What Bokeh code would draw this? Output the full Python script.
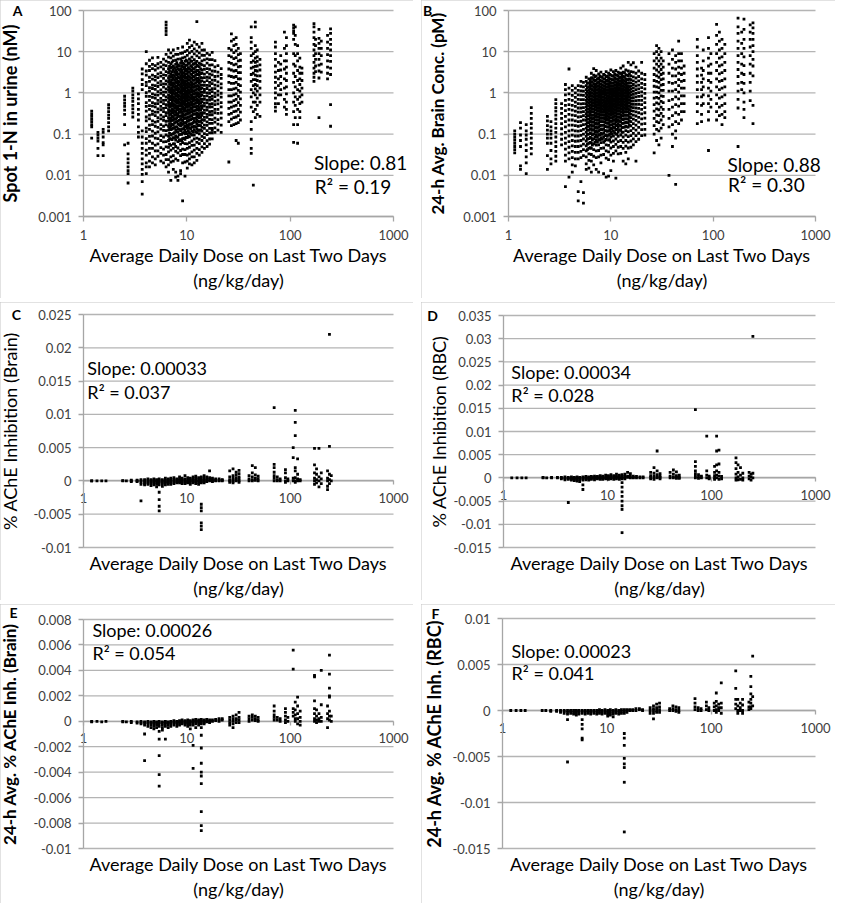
from math import log10
from bokeh.plotting import figure
from bokeh.models import (LogAxis, LinearAxis, FixedTicker, NumeralTickFormatter, Label, Range1d)
from bokeh.layouts import row, column
from bokeh.embed import file_html
from bokeh.resources import INLINE

FONT = "Lato"
X_TITLE = "Average Daily Dose on Last Two Days\n(ng/kg/day)"
X_TICKS = [1, 10, 100, 1000]
LOG_YTICKS = [0.001, 0.01, 0.1, 1, 10, 100]
C_YTICKS = [-0.01, -0.005, 0, 0.005, 0.01, 0.015, 0.02, 0.025]
D_YTICKS = [-0.015, -0.01, -0.005, 0, 0.005, 0.01, 0.015, 0.02, 0.025, 0.03, 0.035]
E_YTICKS = [-0.01, -0.008, -0.006, -0.004, -0.002, 0, 0.002, 0.004, 0.006, 0.008]
F_YTICKS = [-0.015, -0.01, -0.005, 0, 0.005, 0.01]

# ---------------- Panel A: Spot 1-N in urine (nM) ----------------
A_DOSE = [1.2, 1.38, 1.55, 1.75, 2.5, 2.7, 3.0, 3.4, 3.7, 4.05, 4.35, 4.65, 4.95, 5.25, 5.6, 5.95,
          6.3, 6.65, 7.0, 7.4, 7.8, 8.2, 8.7, 9.1, 9.6, 10.1, 10.6, 11.2, 11.8, 12.5, 13.2, 14.0,
          14.8, 15.7, 16.6, 17.6, 18.7, 20.0, 21.5, 25.5, 27, 28.5, 30, 31.5, 33, 42, 44, 46, 48, 51,
          72, 77, 81, 88, 92, 108, 112, 118, 124, 130, 170, 176, 190, 200, 230, 246]
A_VALS = [
    [0.36, 0.31, 0.27, 0.23, 0.2, 0.17, 0.15, 0.08],
    [0.11, 0.095, 0.08, 0.068, 0.045, 0.03],
    [0.13, 0.11, 0.085, 0.062, 0.055, 0.03],
    [0.52, 0.43, 0.35, 0.29, 0.24, 0.19, 0.15, 0.12],
    [0.83, 0.68, 0.56, 0.47, 0.38, 0.3, 0.17, 0.055],
    [0.06, 0.033, 0.025, 0.02, 0.016, 0.013, 0.011, 0.0065],
    [1.3, 1.1, 0.9, 0.75, 0.62, 0.5, 0.41, 0.33, 0.26],
    [0.95, 0.72, 0.55, 0.4, 0.3, 0.22, 0.15, 0.11, 0.085],
    [3.8, 2.9, 2.1, 1.6, 1.2, 0.12, 0.085, 0.06, 0.045, 0.034, 0.025, 0.019, 0.014, 0.0105, 0.007, 0.0035],
    [10, 5.1, 3.4, 2.7, 1.8, 1.5, 1.02, 0.83, 0.58, 0.47, 0.36, 0.26, 0.21, 0.14, 0.115, 0.078, 0.06, 0.041, 0.031, 0.02, 0.016, 0.011],
    [6.2, 4.4, 3.5, 2.4, 1.9, 1.35, 1.1, 0.82, 0.66, 0.49, 0.4, 0.29, 0.235, 0.165, 0.13, 0.088, 0.067, 0.045, 0.034, 0.022, 0.016],
    [7.1, 4.9, 3.9, 2.7, 2.15, 1.55, 1.28, 0.95, 0.78, 0.58, 0.48, 0.36, 0.3, 0.21, 0.17, 0.118, 0.09, 0.06, 0.045, 0.028, 0.02],
    [4.6, 3.6, 2.5, 2.05, 1.5, 1.22, 0.9, 0.75, 0.55, 0.46, 0.34, 0.28, 0.195, 0.155, 0.105, 0.08, 0.054, 0.039, 0.025, 0.018],
    [7.3, 5.1, 4.0, 2.9, 2.35, 1.75, 1.43, 1.07, 0.88, 0.66, 0.55, 0.41, 0.34, 0.25, 0.205, 0.145, 0.113, 0.078, 0.058, 0.039, 0.029],
    [5.5, 4.3, 3.1, 2.55, 1.9, 1.58, 1.18, 0.98, 0.74, 0.61, 0.47, 0.39, 0.29, 0.235, 0.17, 0.133, 0.092, 0.07, 0.047, 0.034, 0.022],
    [6.6, 4.8, 3.8, 2.75, 2.25, 1.66, 1.38, 1.04, 0.87, 0.66, 0.55, 0.42, 0.35, 0.26, 0.215, 0.155, 0.123, 0.085, 0.065, 0.043, 0.031, 0.02],
    [52, 44, 37, 31, 26, 8.6, 5.9, 4.6, 3.3, 2.65, 1.95, 1.63, 1.25, 1.04, 0.8, 0.67, 0.52, 0.44, 0.33, 0.28, 0.205, 0.168, 0.122, 0.095, 0.066, 0.049, 0.032, 0.024, 0.016],
    [11, 7.4, 5.5, 3.9, 3.1, 2.3, 1.88, 1.42, 1.18, 0.9, 0.76, 0.59, 0.5, 0.39, 0.33, 0.25, 0.21, 0.155, 0.125, 0.089, 0.07, 0.048, 0.037, 0.024, 0.018, 0.012],
    [9.4, 7.1, 5.1, 4.0, 2.9, 2.4, 1.8, 1.53, 1.18, 1.02, 0.8, 0.69, 0.54, 0.47, 0.37, 0.315, 0.245, 0.205, 0.155, 0.128, 0.094, 0.076, 0.053, 0.041, 0.028, 0.021, 0.0075],
    [11, 7.8, 6.1, 4.5, 3.65, 2.75, 2.25, 1.74, 1.48, 1.17, 1.0, 0.8, 0.69, 0.55, 0.48, 0.38, 0.325, 0.255, 0.215, 0.165, 0.138, 0.102, 0.082, 0.058, 0.045, 0.03, 0.022, 0.014],
    [8.6, 6.2, 4.9, 3.6, 2.95, 2.25, 1.88, 1.46, 1.25, 0.99, 0.86, 0.7, 0.61, 0.49, 0.43, 0.34, 0.295, 0.235, 0.2, 0.15, 0.123, 0.09, 0.072, 0.05, 0.038, 0.025, 0.012, 0.009],
    [12, 8.6, 6.6, 4.8, 3.9, 2.9, 2.45, 1.9, 1.63, 1.29, 1.12, 0.9, 0.78, 0.64, 0.56, 0.45, 0.395, 0.315, 0.27, 0.21, 0.178, 0.136, 0.112, 0.083, 0.066, 0.046, 0.035, 0.023, 0.0095, 0.0075],
    [9.1, 6.7, 5.3, 3.9, 3.25, 2.5, 2.1, 1.64, 1.4, 1.12, 0.97, 0.79, 0.69, 0.56, 0.49, 0.39, 0.34, 0.275, 0.235, 0.185, 0.158, 0.122, 0.1, 0.073, 0.057, 0.04, 0.03, 0.013, 0.011],
    [13, 9.3, 7.1, 5.2, 4.2, 3.1, 2.6, 2.0, 1.7, 1.35, 1.16, 0.93, 0.81, 0.65, 0.57, 0.46, 0.4, 0.315, 0.265, 0.205, 0.173, 0.132, 0.107, 0.078, 0.062, 0.043, 0.032, 0.02, 0.0024],
    [10, 7.4, 5.8, 4.3, 3.5, 2.7, 2.25, 1.76, 1.5, 1.2, 1.04, 0.84, 0.73, 0.59, 0.51, 0.41, 0.355, 0.285, 0.245, 0.19, 0.16, 0.123, 0.102, 0.075, 0.059, 0.042, 0.032, 0.021, 0.0095],
    [16, 10.8, 8.1, 5.9, 4.7, 3.5, 2.9, 2.25, 1.9, 1.52, 1.3, 1.05, 0.91, 0.74, 0.64, 0.52, 0.45, 0.36, 0.315, 0.25, 0.213, 0.166, 0.137, 0.103, 0.082, 0.058, 0.045, 0.031, 0.022, 0.015],
    [19, 12.8, 9.4, 6.7, 5.3, 3.9, 3.2, 2.45, 2.06, 1.62, 1.39, 1.12, 0.97, 0.78, 0.68, 0.55, 0.48, 0.38, 0.33, 0.26, 0.218, 0.172, 0.142, 0.108, 0.086, 0.062, 0.048, 0.033, 0.025, 0.019],
    [14, 10.2, 7.4, 5.8, 4.3, 3.5, 2.7, 2.25, 1.76, 1.5, 1.2, 1.04, 0.83, 0.72, 0.58, 0.5, 0.4, 0.345, 0.275, 0.235, 0.18, 0.152, 0.118, 0.095, 0.068, 0.053, 0.037, 0.028, 0.018],
    [17, 11.7, 8.9, 6.4, 5.1, 3.8, 3.15, 2.45, 2.05, 1.62, 1.38, 1.1, 0.95, 0.77, 0.66, 0.53, 0.46, 0.36, 0.31, 0.24, 0.205, 0.157, 0.128, 0.095, 0.076, 0.054, 0.041, 0.028, 0.02],
    [54, 15, 10.3, 7.9, 5.8, 4.7, 3.5, 2.9, 2.25, 1.9, 1.5, 1.27, 1.01, 0.87, 0.7, 0.6, 0.48, 0.41, 0.32, 0.275, 0.215, 0.178, 0.135, 0.109, 0.08, 0.063, 0.045, 0.034, 0.023],
    [13, 9.4, 7.2, 5.3, 4.3, 3.2, 2.65, 2.05, 1.73, 1.37, 1.17, 0.93, 0.8, 0.64, 0.55, 0.44, 0.375, 0.295, 0.25, 0.196, 0.163, 0.124, 0.102, 0.075, 0.059, 0.042, 0.031],
    [16, 10.9, 8.2, 6.0, 4.8, 3.6, 3.0, 2.32, 1.95, 1.54, 1.31, 1.04, 0.89, 0.71, 0.61, 0.49, 0.42, 0.33, 0.285, 0.225, 0.188, 0.145, 0.119, 0.088, 0.07, 0.049, 0.036],
    [11, 8.1, 6.3, 4.6, 3.75, 2.85, 2.35, 1.82, 1.52, 1.21, 1.03, 0.82, 0.7, 0.56, 0.48, 0.38, 0.325, 0.255, 0.215, 0.166, 0.138, 0.103, 0.082, 0.059, 0.045],
    [9.1, 6.7, 5.3, 3.9, 3.15, 2.4, 1.98, 1.53, 1.28, 1.0, 0.85, 0.67, 0.57, 0.45, 0.385, 0.3, 0.255, 0.197, 0.162, 0.122, 0.097, 0.069, 0.05],
    [8.4, 6.4, 4.7, 3.75, 2.85, 2.33, 1.8, 1.49, 1.17, 0.98, 0.78, 0.67, 0.53, 0.45, 0.35, 0.295, 0.228, 0.183, 0.137, 0.107, 0.076, 0.057],
    [9.6, 6.4, 4.8, 3.4, 2.75, 2.05, 1.68, 1.27, 1.07, 0.83, 0.7, 0.55, 0.46, 0.355, 0.295, 0.225, 0.183, 0.137, 0.107, 0.077, 0.124],
    [6.1, 4.3, 3.35, 2.5, 2.03, 1.55, 1.27, 0.98, 0.81, 0.63, 0.52, 0.4, 0.33, 0.245, 0.195, 0.142, 0.11],
    [4.6, 3.2, 2.55, 1.85, 1.48, 1.1, 0.89, 0.67, 0.54, 0.4, 0.32, 0.225, 0.175, 0.125],
    [3.9, 2.8, 2.25, 1.65, 1.33, 0.98, 0.79, 0.58, 0.46, 0.325, 0.245, 0.165, 0.11],
    [12, 8, 5.5, 3.8, 2.6, 1.8, 1.2, 0.85, 0.6, 0.42, 0.3, 0.2, 0.021],
    [27, 18, 11, 7.5, 5.2, 3.6, 2.5, 1.7, 1.2, 0.85, 0.6, 0.45, 0.32, 0.23, 0.16],
    [20, 14, 9.5, 6.8, 4.8, 3.4, 2.4, 1.7, 1.25, 0.9, 0.65, 0.48, 0.35, 0.25, 0.17],
    [22, 15, 10.5, 7.2, 5, 3.5, 2.5, 1.8, 1.3, 0.95, 0.7, 0.5, 0.36, 0.26, 0.18, 0.07],
    [12, 8.5, 6, 4.3, 3.1, 2.2, 1.6, 1.15, 0.82, 0.58, 0.4, 0.28, 0.19, 0.06],
    [9, 6.2, 4.4, 3.1, 2.2, 1.5, 1.05, 0.72, 0.5, 0.34, 0.22],
    [40, 22, 17, 12, 8, 5.5, 4, 2.8, 1.9, 1.2, 0.8, 0.45, 0.2, 0.13, 0.075, 0.045, 0.034],
    [9, 6, 4.2, 3, 2.1, 1.5, 1.0, 0.6, 0.35, 0.0058],
    [52, 40, 14, 10, 7, 5.5, 4.4, 3.5, 2.7, 2.1, 1.6, 1.25, 0.9, 0.6, 0.4, 0.25],
    [11, 7.5, 5.8, 4.5, 3.4, 2.6, 2, 1.5, 1.1, 0.75, 0.5, 0.3],
    [6.5, 4.8, 3.6, 2.6, 1.9, 1.3, 0.9, 0.6, 0.27],
    [17, 13, 9, 6.5, 4.5, 3.2, 2.4, 1.8, 1.3, 1.0, 0.75, 0.55, 0.45, 0.36],
    [5.5, 3.5, 2.2, 1.5, 0.9, 0.55],
    [8, 5, 3.6, 2.5, 1.7, 1.2, 0.9],
    [30, 12, 6, 3.8, 2.2, 1.3, 0.7, 0.45],
    [22, 14, 9, 6, 4.2, 3, 2, 1.4, 0.95, 0.6, 0.4, 0.3],
    [44, 38, 32, 28, 20, 9, 5, 3, 1.8, 1, 0.6, 0.35, 0.17, 0.063],
    [40, 25, 15, 8, 4.5, 2.5, 1.4, 0.8, 0.5, 0.25],
    [14, 9, 6, 3.5, 2, 1.2, 0.7, 0.4, 0.17, 0.06],
    [7, 4.2, 3, 2.2, 1.6, 1.1, 0.8, 0.55, 0.35, 0.25],
    [4, 3, 2, 1.3, 0.9, 0.6],
    [48, 40, 30, 22, 15, 11, 8, 5.5, 4, 3, 2.4, 1.9],
    [20, 14, 9, 6.5, 4.5, 3.3],
    [35, 21, 16, 12, 9, 6.5, 4.7, 3.4, 2.3, 0.25],
    [18, 12, 8, 5, 3.2],
    [25, 17, 12, 8.5, 6, 4.2, 3.0, 2.2],
    [36, 28, 20, 15, 11, 8, 5.8, 4, 2.8, 0.52, 0.155],
]
# dense core of panel A (between the strips above)
A_CORE_DOSE = [6.8, 7.2, 7.6, 8.0, 8.45, 8.9, 9.35, 9.85, 10.35, 10.9, 11.5, 12.15, 12.85, 13.6]
A_CORE_VALS = [
    [4.4, 3.4, 2.6, 2.05, 1.65, 1.3, 1.08, 0.85, 0.69, 0.55, 0.45, 0.36, 0.29, 0.23, 0.18, 0.138, 0.104, 0.078, 0.057],
    [5.6, 4.2, 3.3, 2.6, 2.05, 1.65, 1.33, 1.1, 0.88, 0.73, 0.6, 0.5, 0.41, 0.34, 0.27, 0.22, 0.172, 0.133, 0.1, 0.074],
    [4.1, 3.2, 2.55, 2.05, 1.68, 1.37, 1.14, 0.93, 0.77, 0.64, 0.52, 0.43, 0.355, 0.29, 0.235, 0.185, 0.143, 0.108, 0.08, 0.058],
    [5.4, 4.2, 3.3, 2.7, 2.15, 1.77, 1.45, 1.2, 0.99, 0.82, 0.68, 0.57, 0.47, 0.385, 0.31, 0.25, 0.195, 0.15, 0.114, 0.085],
    [4.6, 3.6, 2.85, 2.3, 1.85, 1.52, 1.25, 1.04, 0.86, 0.71, 0.59, 0.49, 0.41, 0.335, 0.27, 0.215, 0.168, 0.13, 0.097, 0.07],
    [5.9, 4.5, 3.5, 2.8, 2.25, 1.83, 1.5, 1.24, 1.03, 0.86, 0.72, 0.6, 0.5, 0.415, 0.34, 0.275, 0.22, 0.172, 0.132, 0.098, 0.07],
    [4.9, 3.8, 3.0, 2.4, 1.95, 1.6, 1.32, 1.1, 0.92, 0.77, 0.64, 0.53, 0.44, 0.36, 0.295, 0.235, 0.185, 0.143, 0.108, 0.08],
    [6.2, 4.7, 3.7, 2.95, 2.4, 1.96, 1.62, 1.35, 1.12, 0.93, 0.78, 0.65, 0.54, 0.45, 0.37, 0.3, 0.24, 0.19, 0.148, 0.112, 0.083],
    [5.2, 4.1, 3.25, 2.6, 2.1, 1.72, 1.42, 1.18, 0.98, 0.82, 0.68, 0.57, 0.47, 0.39, 0.32, 0.26, 0.205, 0.16, 0.122, 0.09],
    [6.0, 4.6, 3.6, 2.85, 2.3, 1.88, 1.55, 1.28, 1.06, 0.88, 0.74, 0.61, 0.51, 0.42, 0.345, 0.28, 0.225, 0.176, 0.135, 0.1],
    [4.9, 3.9, 3.1, 2.5, 2.02, 1.66, 1.37, 1.13, 0.94, 0.78, 0.65, 0.54, 0.45, 0.37, 0.3, 0.24, 0.19, 0.148, 0.112],
    [5.4, 4.2, 3.3, 2.65, 2.15, 1.75, 1.44, 1.19, 0.98, 0.81, 0.67, 0.56, 0.46, 0.375, 0.305, 0.245, 0.195, 0.152, 0.115],
    [4.5, 3.5, 2.8, 2.25, 1.82, 1.49, 1.22, 1.0, 0.83, 0.69, 0.57, 0.47, 0.385, 0.315, 0.255, 0.205, 0.16, 0.124],
    [5.0, 3.8, 2.95, 2.35, 1.9, 1.55, 1.27, 1.04, 0.86, 0.71, 0.58, 0.48, 0.39, 0.32, 0.26, 0.205, 0.16, 0.125],
]

# ---------------- Panel B: 24-h Avg. Brain Conc. (pM) ----------------
B_DOSE = [1.15, 1.31, 1.49, 1.67, 2.4, 2.6, 2.9, 3.3, 3.6, 3.9, 4.2, 4.5, 4.8, 5.1, 5.4, 5.75,
          6.1, 6.45, 6.8, 7.2, 7.6, 8.0, 8.5, 9.0, 9.5, 10.0, 10.6, 11.2, 11.8, 12.5, 13.2, 14.0,
          14.8, 15.7, 16.6, 17.6, 18.7, 20.0, 21.5, 26.5, 28, 29.5, 31, 32.5, 37, 40, 43, 46, 49, 52,
          70, 77, 80, 90, 95, 108, 115, 122, 130, 175, 190, 200, 230, 245]
B_VALS = [
    [0.12, 0.1, 0.085, 0.072, 0.06, 0.05, 0.042, 0.035],
    [0.19, 0.14, 0.095, 0.07, 0.05, 0.017, 0.014],
    [0.17, 0.12, 0.095, 0.075, 0.055, 0.04, 0.028, 0.02, 0.011],
    [0.44, 0.32, 0.24, 0.18, 0.14, 0.105, 0.08, 0.06, 0.045, 0.033],
    [0.27, 0.21, 0.16, 0.125, 0.1, 0.08, 0.06, 0.03, 0.014],
    [0.2, 0.15, 0.12, 0.1, 0.08, 0.06, 0.04, 0.025, 0.019],
    [0.69, 0.55, 0.44, 0.36, 0.29, 0.23, 0.18, 0.14, 0.11, 0.085, 0.065, 0.05, 0.038, 0.029, 0.022],
    [0.55, 0.42, 0.32, 0.24, 0.18, 0.135, 0.1, 0.075, 0.055],
    [1.6, 1.2, 0.9, 0.66, 0.5, 0.37, 0.27, 0.2, 0.15, 0.11, 0.08, 0.06, 0.043, 0.031, 0.022, 0.0053],
    [3.8, 1.3, 0.95, 0.7, 0.52, 0.4, 0.3, 0.22, 0.165, 0.12, 0.09, 0.066, 0.048, 0.035, 0.025, 0.009],
    [1.5, 1.15, 0.87, 0.66, 0.5, 0.38, 0.29, 0.22, 0.165, 0.125, 0.094, 0.07, 0.052, 0.038, 0.027, 0.018, 0.012],
    [1.3, 1.0, 0.78, 0.6, 0.47, 0.36, 0.28, 0.21, 0.16, 0.12, 0.09, 0.067, 0.05, 0.036, 0.025, 0.017],
    [1.5, 1.15, 0.9, 0.7, 0.55, 0.43, 0.34, 0.26, 0.2, 0.155, 0.118, 0.09, 0.068, 0.05, 0.036, 0.025, 0.0024, 0.004],
    [1.9, 1.45, 1.12, 0.88, 0.69, 0.54, 0.43, 0.34, 0.265, 0.205, 0.16, 0.122, 0.093, 0.07, 0.052, 0.038, 0.027, 0.007],
    [1.8, 1.4, 1.1, 0.87, 0.69, 0.55, 0.44, 0.35, 0.28, 0.22, 0.17, 0.13, 0.1, 0.076, 0.057, 0.042, 0.03, 0.0021, 0.0038],
    [2.4, 1.9, 1.5, 1.2, 0.98, 0.8, 0.66, 0.55, 0.46, 0.38, 0.315, 0.26, 0.215, 0.175, 0.14, 0.112, 0.088, 0.068, 0.052, 0.039, 0.028, 0.019, 0.014],
    [2.2, 1.75, 1.42, 1.17, 0.97, 0.81, 0.68, 0.57, 0.48, 0.4, 0.335, 0.28, 0.23, 0.19, 0.155, 0.125, 0.1, 0.078, 0.06, 0.045, 0.033, 0.023, 0.015],
    [3.0, 2.3, 1.85, 1.5, 1.23, 1.02, 0.85, 0.71, 0.6, 0.5, 0.42, 0.35, 0.29, 0.24, 0.2, 0.162, 0.13, 0.103, 0.08, 0.061, 0.045, 0.032, 0.022, 0.012],
    [3.9, 2.7, 2.1, 1.68, 1.37, 1.13, 0.95, 0.8, 0.68, 0.58, 0.49, 0.41, 0.345, 0.29, 0.24, 0.198, 0.16, 0.128, 0.1, 0.077, 0.058, 0.042, 0.029, 0.018],
    [3.5, 2.6, 2.05, 1.66, 1.37, 1.15, 0.97, 0.83, 0.71, 0.61, 0.52, 0.445, 0.38, 0.32, 0.27, 0.225, 0.185, 0.15, 0.12, 0.094, 0.072, 0.054, 0.039, 0.027, 0.014],
    [2.9, 2.25, 1.82, 1.5, 1.26, 1.07, 0.91, 0.78, 0.67, 0.58, 0.5, 0.43, 0.37, 0.315, 0.265, 0.222, 0.183, 0.15, 0.12, 0.095, 0.073, 0.055, 0.04, 0.028, 0.012],
    [3.2, 2.45, 1.97, 1.62, 1.36, 1.15, 0.98, 0.84, 0.72, 0.62, 0.535, 0.46, 0.395, 0.335, 0.285, 0.24, 0.2, 0.165, 0.133, 0.106, 0.082, 0.062, 0.045, 0.031, 0.02],
    [2.8, 2.2, 1.8, 1.5, 1.27, 1.08, 0.93, 0.8, 0.69, 0.6, 0.52, 0.45, 0.39, 0.335, 0.285, 0.24, 0.2, 0.165, 0.134, 0.107, 0.083, 0.063, 0.046, 0.032, 0.011],
    [3.3, 2.5, 2.0, 1.65, 1.39, 1.18, 1.01, 0.87, 0.75, 0.65, 0.56, 0.485, 0.42, 0.36, 0.31, 0.265, 0.222, 0.185, 0.152, 0.122, 0.096, 0.074, 0.055, 0.039, 0.026, 0.009],
    [3.0, 2.35, 1.92, 1.6, 1.36, 1.16, 1.0, 0.86, 0.74, 0.64, 0.555, 0.48, 0.415, 0.355, 0.305, 0.26, 0.22, 0.183, 0.15, 0.12, 0.094, 0.072, 0.053, 0.037, 0.024, 0.0095],
    [3.6, 2.7, 2.15, 1.77, 1.49, 1.27, 1.09, 0.94, 0.81, 0.7, 0.61, 0.53, 0.46, 0.395, 0.34, 0.29, 0.245, 0.205, 0.17, 0.138, 0.11, 0.085, 0.064, 0.046, 0.031, 0.013],
    [3.3, 2.55, 2.07, 1.72, 1.46, 1.25, 1.08, 0.94, 0.82, 0.71, 0.62, 0.54, 0.47, 0.405, 0.35, 0.3, 0.255, 0.215, 0.178, 0.145, 0.116, 0.09, 0.068, 0.05, 0.034, 0.022],
    [3.5, 2.7, 2.2, 1.84, 1.57, 1.35, 1.17, 1.02, 0.89, 0.78, 0.68, 0.59, 0.515, 0.445, 0.385, 0.33, 0.28, 0.235, 0.195, 0.16, 0.128, 0.1, 0.076, 0.056, 0.039, 0.0085],
    [3.2, 2.55, 2.1, 1.77, 1.52, 1.32, 1.15, 1.0, 0.88, 0.77, 0.67, 0.58, 0.5, 0.43, 0.37, 0.315, 0.265, 0.22, 0.18, 0.145, 0.114, 0.088, 0.066, 0.048, 0.033],
    [4.0, 3.0, 2.4, 1.98, 1.68, 1.44, 1.25, 1.09, 0.95, 0.83, 0.72, 0.63, 0.545, 0.47, 0.405, 0.345, 0.29, 0.24, 0.197, 0.158, 0.124, 0.095, 0.07, 0.05, 0.034],
    [4.5, 3.2, 2.5, 2.05, 1.72, 1.46, 1.26, 1.09, 0.95, 0.83, 0.72, 0.62, 0.535, 0.46, 0.39, 0.33, 0.275, 0.225, 0.182, 0.145, 0.112, 0.085, 0.063, 0.045, 0.022],
    [3.6, 2.75, 2.2, 1.82, 1.54, 1.31, 1.13, 0.98, 0.85, 0.74, 0.64, 0.55, 0.47, 0.4, 0.34, 0.285, 0.235, 0.192, 0.155, 0.122, 0.094, 0.07, 0.051, 0.036, 0.019],
    [5.5, 3.4, 2.6, 2.1, 1.74, 1.46, 1.24, 1.06, 0.91, 0.78, 0.67, 0.57, 0.485, 0.41, 0.345, 0.285, 0.232, 0.187, 0.148, 0.115, 0.087, 0.064, 0.046, 0.025],
    [4.8, 3.3, 2.6, 2.1, 1.75, 1.46, 1.23, 1.04, 0.88, 0.75, 0.63, 0.53, 0.445, 0.37, 0.305, 0.25, 0.2, 0.158, 0.122, 0.092, 0.068, 0.048],
    [5.4, 3.2, 2.45, 1.95, 1.6, 1.32, 1.1, 0.92, 0.77, 0.64, 0.53, 0.44, 0.36, 0.29, 0.23, 0.18, 0.138, 0.104, 0.077, 0.055],
    [4.2, 3.0, 2.3, 1.82, 1.47, 1.2, 0.98, 0.8, 0.65, 0.53, 0.43, 0.345, 0.275, 0.215, 0.165, 0.125, 0.092, 0.066, 0.022],
    [3.4, 2.5, 1.95, 1.55, 1.25, 1.01, 0.82, 0.66, 0.53, 0.42, 0.33, 0.255, 0.195, 0.145, 0.105, 0.075],
    [5.5, 3.0, 2.2, 1.7, 1.34, 1.06, 0.84, 0.66, 0.52, 0.4, 0.31, 0.235, 0.175, 0.128, 0.092],
    [2.8, 2.1, 1.6, 1.25, 0.97, 0.75, 0.58, 0.44, 0.33, 0.245, 0.18, 0.13, 0.095],
    [9, 6, 4, 2.8, 2, 1.45, 1.05, 0.75, 0.52, 0.36, 0.24, 0.16, 0.1, 0.035],
    [14, 10, 7, 5, 3.6, 2.6, 1.9, 1.4, 1.05, 0.78, 0.57, 0.41, 0.29, 0.2, 0.13, 0.07],
    [12, 8.5, 6, 4.4, 3.2, 2.4, 1.8, 1.35, 1.0, 0.74, 0.54, 0.39, 0.28, 0.19, 0.12, 0.055],
    [10, 7, 5, 3.7, 2.8, 2.1, 1.55, 1.15, 0.85, 0.62, 0.45, 0.32, 0.22, 0.14, 0.08],
    [6, 4.2, 3.0, 2.2, 1.6, 1.15, 0.82, 0.58, 0.4, 0.27, 0.17],
    [9, 5, 3, 1.8, 1.1, 0.65, 0.4, 0.24, 0.15, 0.01],
    [11, 6.5, 4, 2.6, 1.7, 1.1, 0.7, 0.45, 0.28, 0.17, 0.1, 0.05],
    [8, 5.5, 3.8, 2.6, 1.8, 1.2, 0.8, 0.52, 0.33, 0.2, 0.12, 0.08, 0.006],
    [18, 9, 6, 4.2, 3, 2.1, 1.5, 1.05, 0.72, 0.48, 0.3, 0.18],
    [9, 6, 4, 2.8, 1.9, 1.3, 0.85, 0.55, 0.35, 0.22],
    [4.5, 3.0, 2.0, 1.3, 0.85, 0.55, 0.35],
    [20, 13, 8, 5.5, 3.8, 2.6, 1.8, 1.2, 0.8, 0.55, 0.35, 0.18],
    [4, 2.7, 1.8, 1.2, 0.8, 0.5, 0.3, 0.2],
    [11, 6, 3.5, 2.2, 1.4, 0.9, 0.55],
    [22, 12, 7, 4.5, 3, 2, 1.3, 0.85, 0.55, 0.35, 0.22, 0.04],
    [9, 5, 3, 1.8, 1.1, 0.7, 0.45],
    [46, 25, 15, 9, 5.5, 3.5, 2.2, 1.4, 0.9, 0.55, 0.35, 0.22],
    [30, 18, 11, 7, 4.5, 2.9, 1.9, 1.2, 0.75, 0.45, 0.28],
    [20, 12, 7.5, 4.8, 3.1, 2.0, 1.3, 0.8, 0.5, 0.3, 0.17],
    [15, 9, 5.5, 3.5, 2.2, 1.4, 0.9, 0.55, 0.35, 0.25],
    [65, 40, 28, 18, 12, 8, 5.5, 3.7, 2.5, 1.7, 1.1, 0.7, 0.43, 0.05],
    [30, 16, 9, 5, 3, 1.8, 1.2],
    [62, 35, 20, 12, 7.5, 4.6, 2.8, 1.7, 1.0, 0.6, 0.4, 0.25],
    [45, 30, 20, 13, 8, 5, 3, 1.8, 1.1, 0.65],
    [50, 38, 28, 20, 14, 10, 6.5, 4.5, 2.6, 0.5, 0.18],
]
# dense core of panel B (between the strips above)
B_CORE_DOSE = [5.9, 6.3, 6.6, 7.0, 7.4, 7.8, 8.25, 8.75, 9.25, 9.75, 10.3, 10.9, 11.5, 12.15, 12.85, 13.6, 14.4, 15.2]
B_CORE_VALS = [
    [1.7, 1.35, 1.08, 0.88, 0.72, 0.6, 0.5, 0.41, 0.34, 0.28, 0.23, 0.19, 0.155, 0.125, 0.098, 0.076, 0.057, 0.042],
    [2.0, 1.6, 1.3, 1.06, 0.88, 0.73, 0.61, 0.51, 0.43, 0.36, 0.3, 0.25, 0.205, 0.167, 0.135, 0.107, 0.083, 0.063, 0.047],
    [2.3, 1.82, 1.47, 1.2, 0.99, 0.83, 0.69, 0.58, 0.49, 0.41, 0.345, 0.285, 0.235, 0.192, 0.155, 0.123, 0.096, 0.073, 0.054],
    [2.5, 1.95, 1.57, 1.28, 1.06, 0.89, 0.75, 0.63, 0.535, 0.45, 0.38, 0.32, 0.265, 0.218, 0.177, 0.141, 0.11, 0.084, 0.063],
    [2.2, 1.77, 1.45, 1.2, 1.0, 0.85, 0.72, 0.61, 0.52, 0.44, 0.37, 0.31, 0.26, 0.215, 0.175, 0.14, 0.11, 0.085, 0.064],
    [2.6, 2.05, 1.66, 1.37, 1.14, 0.96, 0.81, 0.69, 0.59, 0.5, 0.42, 0.355, 0.295, 0.245, 0.2, 0.16, 0.126, 0.097, 0.073],
    [2.4, 1.9, 1.55, 1.29, 1.08, 0.92, 0.78, 0.67, 0.57, 0.49, 0.415, 0.35, 0.295, 0.245, 0.2, 0.162, 0.128, 0.099, 0.075],
    [2.7, 2.15, 1.75, 1.45, 1.22, 1.03, 0.88, 0.75, 0.64, 0.55, 0.47, 0.4, 0.34, 0.285, 0.235, 0.192, 0.153, 0.12, 0.092, 0.069],
    [2.5, 2.0, 1.65, 1.38, 1.16, 0.99, 0.85, 0.73, 0.62, 0.53, 0.455, 0.39, 0.33, 0.275, 0.228, 0.186, 0.148, 0.116, 0.088],
    [2.8, 2.2, 1.8, 1.5, 1.27, 1.08, 0.93, 0.8, 0.68, 0.58, 0.5, 0.425, 0.36, 0.3, 0.25, 0.205, 0.163, 0.128, 0.098, 0.073],
    [2.6, 2.1, 1.73, 1.45, 1.23, 1.05, 0.9, 0.77, 0.66, 0.57, 0.49, 0.42, 0.355, 0.3, 0.25, 0.205, 0.165, 0.13, 0.1],
    [2.9, 2.3, 1.88, 1.57, 1.33, 1.14, 0.98, 0.84, 0.72, 0.62, 0.53, 0.455, 0.385, 0.325, 0.27, 0.22, 0.177, 0.14, 0.108],
    [2.7, 2.15, 1.78, 1.5, 1.28, 1.1, 0.95, 0.82, 0.7, 0.6, 0.51, 0.44, 0.37, 0.31, 0.255, 0.208, 0.166, 0.13, 0.1],
    [3.0, 2.35, 1.92, 1.6, 1.35, 1.15, 0.98, 0.84, 0.72, 0.61, 0.52, 0.44, 0.37, 0.31, 0.255, 0.205, 0.163, 0.127],
    [2.8, 2.2, 1.8, 1.5, 1.27, 1.08, 0.92, 0.79, 0.67, 0.57, 0.48, 0.405, 0.34, 0.28, 0.228, 0.182, 0.143, 0.11],
    [3.1, 2.4, 1.95, 1.62, 1.36, 1.15, 0.97, 0.82, 0.7, 0.59, 0.5, 0.42, 0.35, 0.29, 0.235, 0.188, 0.148],
    [2.7, 2.1, 1.7, 1.4, 1.17, 0.98, 0.83, 0.7, 0.59, 0.5, 0.42, 0.35, 0.29, 0.235, 0.19, 0.15],
    [2.9, 2.2, 1.75, 1.42, 1.17, 0.97, 0.81, 0.68, 0.57, 0.47, 0.39, 0.32, 0.26, 0.21, 0.165],
]

# ---------------- Panels C-F: AChE inhibition (same dose groups) ----------------
CF_DOSE = [1.2, 1.35, 1.5, 1.65, 2.4, 2.6, 2.9, 3.3, 3.6, 3.9, 4.2, 4.5, 4.8, 5.1, 5.4, 5.8,
           6.2, 6.6, 7.0, 7.5, 8.0, 8.5, 9.0, 9.6, 10.2, 10.8, 11.5, 12.2, 13.0, 13.8, 14.7, 15.6,
           16.6, 17.7, 19, 20.5, 22, 26, 28, 30, 32, 40, 43, 46, 49, 70, 75, 80, 90, 95,
           107, 112, 118, 125, 172, 180, 190, 200, 230, 240, 250]
C_VALS = [
    [0, 0], [0], [0], [0], [0.00005, 0], [0], [0.0001, 0, -0.0001], [0.0001, 0, -0.0001],
    [0.0002, 0, -0.0002, -0.0005, -0.003],
    [0.0002, 0, -0.0002, -0.0004, -0.0006],
    [0.0003, 0.0001, -0.0001, -0.0003, -0.0005],
    [0.0002, 0, -0.0002, -0.0004, -0.0007],
    [0.0003, 0.0001, -0.0001, -0.0003, -0.0006],
    [0.0002, 0, -0.0002, -0.0005, -0.0009],
    [0.0003, 0.0001, -0.0001, -0.0003, -0.0006, -0.0017, -0.0028, -0.0038, -0.0045],
    [0.0002, 0, -0.0002, -0.0004, -0.0008],
    [0.0004, 0.0001, -0.0001, -0.0003, -0.0006],
    [0.0003, 0.0001, -0.0001, -0.0003, -0.0005],
    [0.0004, 0.0002, 0, -0.0002, -0.0005],
    [0.0005, 0.0002, 0, -0.0002, -0.0004],
    [0.0003, 0.0001, -0.0001, -0.0003],
    [0.0006, 0.0003, 0.0001, -0.0001, -0.0003],
    [0.0004, 0.0002, 0, -0.0002, -0.0004],
    [0.0008, 0.0003, 0.0001, -0.0001, -0.0004],
    [0.0005, 0.0002, 0, -0.0002, -0.0003],
    [0.0004, 0.0002, 0, -0.0002, -0.0005],
    [0.0006, 0.0003, 0.0001, -0.0001, -0.0003],
    [0.0007, 0.0004, 0.0001, -0.0001, -0.0004],
    [0.0005, 0.0002, 0, -0.0002, -0.0005],
    [0.0006, 0.0003, 0.0001, -0.0001, -0.0003, -0.0035, -0.004, -0.0045, -0.0063, -0.0068, -0.0073],
    [0.0008, 0.0004, 0.0001, -0.0001, -0.0003],
    [0.0006, 0.0003, 0.0001, -0.0001],
    [0.0015, 0.0005, 0.0002, 0],
    [0.0004, 0.0002, 0, -0.0001],
    [0.0003, 0.0001, 0],
    [0.0003, 0.0001, 0],
    [0.0002, 0.0001, 0],
    [0.0015, 0.0006, 0.0002, 0, -0.0002],
    [0.0018, 0.0008, 0.0004, 0.0001, -0.0001, -0.0003],
    [0.0013, 0.0009, 0.0005, 0.0002, 0],
    [0.0016, 0.0011, 0.0006, 0.0003, 0, -0.0002],
    [0.0008, 0.0003, 0],
    [0.0023, 0.0012, 0.0006, 0.0002, 0],
    [0.002, 0.0009, 0.0004, 0.0001],
    [0.0007, 0.0003, 0],
    [0.011, 0.0025, 0.002, 0.0013, 0.0008, 0.0004, 0],
    [0.0006, 0.0002, 0],
    [0.0003, 0],
    [0.0017, 0.0012, 0.0005, 0, -0.0002],
    [0.0003, 0],
    [0.005, 0.0035, 0.0004, 0],
    [0.0106, 0.0088, 0.0068, 0.002, 0.0015, 0.0005, 0, -0.0002],
    [0.0033, 0.001, 0.0003, 0],
    [0.0002, 0],
    [0.0049, 0.0024, 0.0012, 0.0004, 0, -0.0005],
    [0.0018, 0.001, 0.0002, -0.0003],
    [0.0049, 0.0006, 0, -0.0009],
    [0.0012, 0.0003, -0.0004],
    [0.0015, 0.0004, 0, -0.0008, -0.0013],
    [0.022, 0.0052, 0.001, 0.0002, -0.0004],
    [0.0008, 0],
]
D_VALS = [
    [0], [0], [0], [0], [0, 0.0001], [0], [0.0001, 0], [0.0001, 0],
    [0.0001, 0, -0.0002],
    [0.0002, 0, -0.0002, -0.0004],
    [0.0001, -0.0001, -0.0003, -0.0053],
    [0.0002, 0, -0.0002, -0.0005],
    [0.0001, -0.0001, -0.0003, -0.0006],
    [0.0002, 0, -0.0003, -0.0007],
    [0.0001, -0.0001, -0.0004, -0.0008],
    [0.0002, 0, -0.0002, -0.0005, -0.0015, -0.0025],
    [0.0003, 0.0001, -0.0001, -0.0004],
    [0.0002, 0, -0.0002, -0.0005],
    [0.0003, 0.0001, -0.0001, -0.0003],
    [0.0004, 0.0001, -0.0001, -0.0004],
    [0.0003, 0, -0.0002],
    [0.0005, 0.0002, 0, -0.0003],
    [0.0004, 0.0001, -0.0001, -0.0003],
    [0.0006, 0.0002, 0, -0.0002],
    [0.0005, 0.0002, -0.0001, -0.0003],
    [0.0007, 0.0003, 0, -0.0002],
    [0.0005, 0.0002, 0, -0.0003],
    [0.0008, 0.0003, 0.0001, -0.0002],
    [0.0006, 0.0002, 0, -0.0003],
    [0.0007, 0.0003, 0, -0.0002, -0.001, -0.002, -0.003, -0.004, -0.005, -0.006, -0.0068, -0.0118],
    [0.0008, 0.0003, 0.0001, -0.0002],
    [0.0012, 0.0004, 0.0001],
    [0.0009, 0.0003, 0],
    [0.0004, 0.0001, 0],
    [0.0003, 0],
    [0.0002, 0],
    [0.0002, 0],
    [0.0012, 0.0005, 0.0001, -0.0002],
    [0.0022, 0.001, 0.0004, 0, -0.0003],
    [0.0058, 0.0015, 0.0007, 0.0002, 0],
    [0.0009, 0.0004, 0.0001, -0.0002],
    [0.0012, 0.0004, 0],
    [0.0017, 0.0008, 0.0002, 0],
    [0.0013, 0.0005, 0.0001, -0.0001],
    [0.0006, 0.0001, -0.0001],
    [0.0147, 0.0035, 0.0025, 0.0015, 0.0009, 0.0004, 0],
    [0.0007, 0.0002, -0.0001],
    [0.0004, 0],
    [0.009, 0.0015, 0.0006, 0],
    [0.0004, 0, -0.0002],
    [0.0025, 0.0012, 0.0005, 0, -0.0003],
    [0.009, 0.0058, 0.0028, 0.0015, 0.0006, 0],
    [0.006, 0.003, 0.0012, 0.0004, -0.0003],
    [0.0003, -0.0002],
    [0.0043, 0.0033, 0.002, 0.0008, 0, -0.0005],
    [0.0028, 0.0012, 0.0002, -0.0004],
    [0.0022, 0.0006, -0.0003],
    [0.001, 0, -0.0005],
    [0.0012, 0.0004, -0.0002],
    [0.0008, 0.0002, -0.0005],
    [0.0305, 0.001, 0],
]
E_VALS = [
    [0, -0.00005], [0], [-0.00005], [0], [0, -0.00005], [-0.00005], [0, -0.0001], [-0.00005, -0.00015],
    [0, -0.0001, -0.0002],
    [-0.00005, -0.00015, -0.0003, -0.001, -0.0031],
    [0, -0.0001, -0.0002, -0.0004],
    [-0.00005, -0.00015, -0.0003, -0.0005],
    [0, -0.0001, -0.0002, -0.0004, -0.0006],
    [-0.00005, -0.00015, -0.0003, -0.0005],
    [0, -0.0001, -0.0002, -0.0004, -0.0008, -0.0014, -0.0027, -0.0042, -0.0051],
    [-0.00005, -0.00015, -0.0003, -0.0005, -0.0007],
    [0, -0.0001, -0.0002, -0.0004, -0.0014],
    [-0.00005, -0.00015, -0.0003, -0.0005],
    [0, -0.0001, -0.0002, -0.0004],
    [0.00005, -0.00005, -0.00015, -0.0003],
    [0, -0.0001, -0.0002, -0.0004],
    [0.00005, -0.00005, -0.00015, -0.0003],
    [0.0001, 0, -0.0001, -0.0002],
    [0.00005, -0.00005, -0.00015, -0.0003],
    [0.0001, 0, -0.0001, -0.0002, -0.0004],
    [0.00005, -0.00005, -0.00015, -0.0003, -0.0006],
    [0.0001, 0, -0.0001, -0.0003, -0.0019, -0.0037],
    [0.00015, 0.00005, -0.00005, -0.0002, -0.0005],
    [0.0001, 0, -0.0001, -0.0003],
    [0.00015, 0.00005, -0.00005, -0.0002, -0.0005, -0.0011, -0.0021, -0.0033, -0.004, -0.0043, -0.0049, -0.0071, -0.0082, -0.0086],
    [0.0001, 0, -0.0001, -0.0002],
    [0.00015, 0.00005, -0.00005],
    [0.0001, 0, -0.0001],
    [0.0001, 0],
    [0.00015, 0.00005],
    [0.0002, 0.0001, 0],
    [0.0002, 0.0001],
    [0.0003, 0.0001, -0.0001, -0.0003],
    [0.0004, 0.0002, 0, -0.0002, -0.0005],
    [0.0005, 0.0002, 0.0001, -0.0001],
    [0.0007, 0.0003, 0.0001, -0.0001],
    [0.0004, 0.0002, 0],
    [0.0005, 0.0003, 0.0001],
    [0.0004, 0.0002, 0.00005],
    [0.0003, 0.0001, 0],
    [0.0012, 0.0008, 0.0005, 0.0003, 0.0001],
    [0.0003, 0.0001],
    [0.0002, 0],
    [0.001, 0.0007, 0.0004, 0.0001, -0.0001],
    [0.0003, 0],
    [0.0056, 0.0041, 0.001, 0.0007, 0.0004],
    [0.0015, 0.0009, 0.0005, 0.0002, 0],
    [0.0019, 0.0012, 0.0006, 0.0002, -0.0002],
    [0.0008, 0.0003, 0, -0.0003],
    [0.0036, 0.0035, 0.0016, 0.001, 0.0006, 0.0002, 0],
    [0.0009, 0.0004, 0.0001, -0.0001],
    [0.0006, 0.0002, 0],
    [0.004, 0.0013, 0.0003, 0],
    [0.0012, 0.0006, 0.0002, -0.0005],
    [0.0052, 0.0037, 0.0026, 0.002, 0.0019, 0.0008, 0.0004, 0.0001],
    [0.0004, 0],
]
F_VALS = [
    [0], [0], [0], [0], [0], [0], [0, -0.0001], [0, -0.0001],
    [0, -0.0001, -0.0002],
    [0, -0.0001, -0.0003],
    [0, -0.0002, -0.0004, -0.001, -0.0056],
    [0, -0.0001, -0.0003],
    [0, -0.0002, -0.0004],
    [0, -0.0001, -0.0003, -0.0005],
    [0, -0.0002, -0.0004],
    [0, -0.0001, -0.0003, -0.001, -0.0015, -0.002, -0.003, -0.0032],
    [0, -0.0002, -0.0004],
    [0, -0.0001, -0.0003],
    [0, -0.0002, -0.0004],
    [0, -0.0001, -0.0003],
    [0, -0.0002, -0.0004],
    [0.0001, -0.0001, -0.0003],
    [0, -0.0002, -0.0004],
    [0.0001, -0.0001, -0.0003],
    [0, -0.0002, -0.0004, -0.0006],
    [0.0001, -0.0001, -0.0003, -0.0005],
    [0, -0.0002, -0.0004, -0.0007],
    [0.0001, -0.0001, -0.0003],
    [0, -0.0002, -0.0004],
    [0.0001, -0.0001, -0.0003],
    [0.0001, -0.0001, -0.0003, -0.0025, -0.003, -0.0038, -0.0052, -0.0058, -0.0062, -0.0078, -0.0132],
    [0.0001, 0, -0.0002],
    [0.0001, 0],
    [0.0001, 0],
    [0.0002, 0],
    [0.0002, 0.0001],
    [0.0001, 0],
    [0.0003, 0, -0.0003],
    [0.0005, 0.0002, 0, -0.0003, -0.0009],
    [0.0007, 0.0003, 0, -0.0002],
    [0.0008, 0.0004, 0.0001, -0.0002],
    [0.0002, 0],
    [0.0005, 0.0002, 0],
    [0.0004, 0.0001, -0.0001],
    [0.0003, 0, -0.0002],
    [0.0013, 0.0008, 0.0004, 0.0001],
    [0.0003, 0],
    [0.0002, 0],
    [0.0009, 0.0005, 0.0001],
    [0.0003, 0],
    [0.0008, 0.0004, 0],
    [0.0019, 0.001, 0.0005, 0.0001, -0.0002],
    [0.0007, 0.0003, 0],
    [0.003, 0.0008, 0.0003, -0.0003],
    [0.0043, 0.0024, 0.0012, 0.0007, 0.0002],
    [0.0012, 0.0005, 0, -0.0003],
    [0.0008, 0.0003, 0],
    [0.0012, 0.0006, 0, -0.0003],
    [0.0009, 0.0004, 0.0001],
    [0.0037, 0.0026, 0.0018, 0.0012, 0.0008, 0.0004, 0.0002],
    [0.0059, 0.0015, 0.0005],
]

GRID = "#b4b4b4"
AXC = "#a6a6a6"


def flatten(dose, vals):
    xs, ys = [], []
    for d, v in zip(dose, vals):
        xs += [d] * len(v)
        ys += list(v)
    return xs, ys


def style_axis(ax):
    ax.axis_line_color = AXC
    ax.axis_line_width = 1.3
    ax.major_tick_line_color = AXC
    ax.major_tick_line_width = 1.3
    ax.major_tick_out = 5
    ax.major_tick_in = 0
    ax.minor_tick_out = 0
    ax.minor_tick_in = 0
    ax.major_label_text_font = FONT
    ax.major_label_text_font_size = "13px"
    ax.major_label_text_color = "#404040"
    ax.axis_label_text_font = FONT
    ax.axis_label_text_font_size = "18px"
    ax.axis_label_text_font_style = "normal"
    ax.axis_label_text_color = "black"


def make_panel(letter, series, log_y, y_lo, y_hi, y_ticks, y_title, y_bold, y_title_size,
               slope_txt, r2_txt, slope_at, r2_at, slope_size, geom, letter_off, ylab_standoff):
    # geom: canvas width/height and the plot area (left, top, width, height) inside it
    W, H, L, T, PW, PH = geom
    below = H - T - PH
    right = W - L - PW
    x_lo, x_hi = X_TICKS[0], X_TICKS[-1]
    xpd = PW / (log10(x_hi) - log10(x_lo))
    xr = Range1d(10 ** (log10(x_lo) - L / xpd), 10 ** (log10(x_hi) + right / xpd))
    if log_y:
        ypd = PH / (log10(y_hi) - log10(y_lo))
        yr = Range1d(10 ** (log10(y_lo) - below / ypd), 10 ** (log10(y_hi) + T / ypd))
    else:
        upp = (y_hi - y_lo) / PH
        yr = Range1d(y_lo - below * upp, y_hi + T * upp)

    p = figure(width=W, height=H, min_border=0, title=None,
               x_axis_type="log", y_axis_type="log" if log_y else "linear",
               x_axis_location=None, y_axis_location=None,
               x_range=xr, y_range=yr,
               output_backend="svg", toolbar_location=None,
               background_fill_color="white", border_fill_color="white",
               styles={"outline": "1px solid #c4c4c4", "outline-offset": "-1px"})
    p.outline_line_color = None
    p.xgrid.visible = False
    p.ygrid.visible = False

    n = len(y_ticks)
    p.segment(x0=[x_lo] * n, x1=[x_hi] * n, y0=y_ticks, y1=y_ticks,
              line_color=GRID, line_width=1.3, level="underlay")

    YAx = LogAxis if log_y else LinearAxis
    ya = YAx(fixed_location=x_lo, bounds=(y_lo, y_hi),
             ticker=FixedTicker(ticks=y_ticks, minor_ticks=[]),
             formatter=NumeralTickFormatter(format="0.[000]"), axis_label=y_title)
    style_axis(ya)
    ya.major_label_standoff = 7
    ya.axis_label_text_font_style = "bold" if y_bold else "normal"
    ya.axis_label_text_font_size = y_title_size
    ya.axis_label_standoff = ylab_standoff
    p.add_layout(ya, "left")

    xa = LogAxis(fixed_location=y_lo if log_y else 0, bounds=(x_lo, x_hi),
                 ticker=FixedTicker(ticks=X_TICKS, minor_ticks=[]),
                 formatter=NumeralTickFormatter(format="0"))
    style_axis(xa)
    xa.major_label_standoff = 8
    xa.level = "underlay"
    if log_y:
        xa.axis_label = X_TITLE
        xa.axis_label_standoff = 1
        xa.axis_label_text_line_height = 1.15
    else:
        xa.major_tick_out = 4
        tax = LogAxis(fixed_location=y_lo, bounds=(x_lo, x_hi),
                      ticker=FixedTicker(ticks=[], minor_ticks=[]), axis_label=X_TITLE)
        style_axis(tax)
        tax.axis_line_color = None
        tax.major_tick_out = 0
        tax.major_label_standoff = 0
        tax.axis_label_standoff = 4
        tax.axis_label_text_line_height = 1.15
        p.add_layout(tax, "below")
    p.add_layout(xa, "below")

    xs, ys = [], []
    for dose, vals in series:
        sx, sy = flatten(dose, vals)
        xs += sx
        ys += sy
    p.scatter(xs, ys, marker="square", size=2.8, fill_color="black", line_color=None)

    p.add_layout(Label(x=x_lo, y=y_hi, x_offset=letter_off[0], y_offset=letter_off[1], text=letter,
                       text_font=FONT, text_font_style="bold", text_font_size="14px",
                       text_align="center", text_baseline="middle", text_color="black"))
    for txt, (tx, ty) in ((slope_txt, slope_at), (r2_txt, r2_at)):
        p.add_layout(Label(x=tx, y=ty, text=txt, text_font=FONT, text_font_size=slope_size,
                           text_align="left", text_baseline="middle", text_color="black"))
    return p


pA = make_panel("A", [(A_DOSE, A_VALS), (A_CORE_DOSE, A_CORE_VALS)], True, 0.001, 100, LOG_YTICKS,
                "Spot 1-N in urine (nM)", True, "18px",
                "Slope: 0.81", "R\u00b2 = 0.19", (170, 0.021), (173, 0.0053), "19px",
                (413, 298, 83, 10, 310, 206), (-66, 0), 14)
pB = make_panel("B", [(B_DOSE, B_VALS), (B_CORE_DOSE, B_CORE_VALS)], True, 0.001, 100, LOG_YTICKS,
                "24-h Avg. Brain Conc. (pM)", True, "17px",
                "Slope: 0.88", "R\u00b2 = 0.30", (138, 0.0188), (140, 0.0059), "19px",
                (414, 298, 87, 10, 307, 206), (-81, 0), 12)
pC = make_panel("C", [(CF_DOSE, C_VALS)], False, -0.01, 0.025, C_YTICKS,
                "% AChE Inhibition (Brain)", False, "18px",
                "Slope: 0.00033", "R\u00b2 = 0.037", (1.09, 0.0170), (1.09, 0.0134), "18px",
                (413, 298, 83, 12, 310, 233), (-67, 0), 9)
pD = make_panel("D", [(CF_DOSE, D_VALS)], False, -0.015, 0.035, D_YTICKS,
                "% AChE Inhibition (RBC)", False, "18px",
                "Slope: 0.00034", "R\u00b2 = 0.028", (1.19, 0.0229), (1.19, 0.0179), "18px",
                (414, 298, 82, 13, 312, 232), (-71, 0), 0)
pE = make_panel("E", [(CF_DOSE, E_VALS)], False, -0.01, 0.008, E_YTICKS,
                "24-h Avg. % AChE Inh. (Brain)", True, "17px",
                "Slope: 0.00026", "R\u00b2 = 0.054", (1.22, 0.00718), (1.22, 0.00533), "18px",
                (413, 299, 83, 15, 310, 229), (-70, 7), 10)
pF = make_panel("F", [(CF_DOSE, F_VALS)], False, -0.015, 0.01, F_YTICKS,
                "24-h Avg. % AChE Inh. (RBC)", True, "18px",
                "Slope: 0.00023", "R\u00b2 = 0.041", (1.22, 0.00649), (1.22, 0.00404), "18px",
                (414, 299, 81, 14, 313, 230), (-67, 5), 4)

layout = column(row(pA, pB, spacing=8), row(pC, pD, spacing=8), row(pE, pF, spacing=8), spacing=4)

open("out.html", "w").write(file_html(layout, INLINE))
